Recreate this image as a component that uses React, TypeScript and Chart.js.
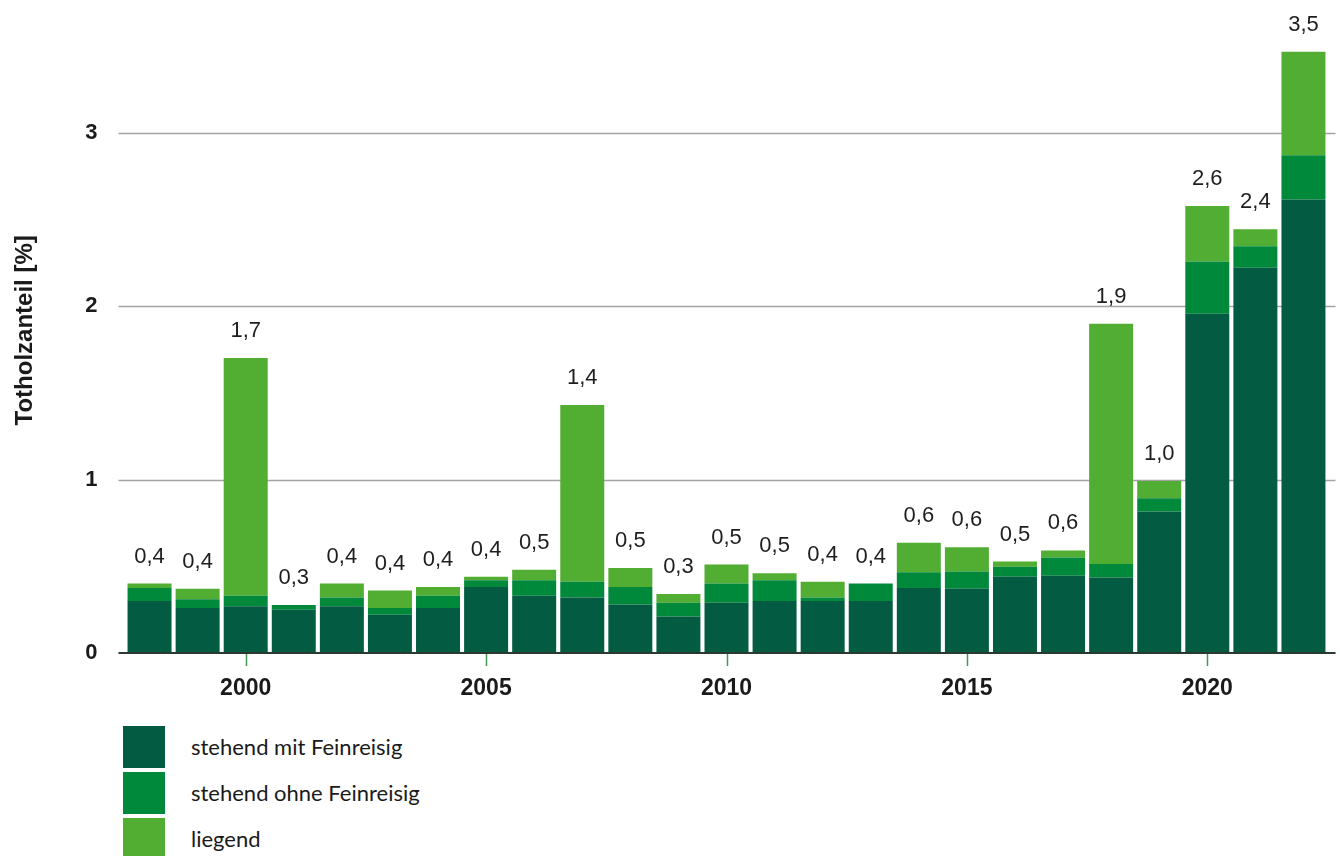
import React, { useEffect, useRef } from "react";
import { Chart, registerables } from "chart.js";

Chart.register(...registerables);

const years = [
  "1998", "1999", "2000", "2001", "2002", "2003", "2004", "2005", "2006", "2007",
  "2008", "2009", "2010", "2011", "2012", "2013", "2014", "2015", "2016", "2017",
  "2018", "2019", "2020", "2021", "2022",
];

const stehendMit = [
  0.30, 0.26, 0.27, 0.25, 0.27, 0.22, 0.26, 0.38, 0.33, 0.32,
  0.28, 0.21, 0.29, 0.30, 0.30, 0.30, 0.375, 0.37, 0.44, 0.445,
  0.435, 0.815, 1.956, 2.22, 2.614,
];

const stehendOhne = [
  0.075, 0.05, 0.06, 0.026, 0.05, 0.04, 0.07, 0.04, 0.09, 0.09,
  0.10, 0.08, 0.11, 0.12, 0.02, 0.10, 0.09, 0.10, 0.057, 0.106,
  0.078, 0.077, 0.30, 0.125, 0.255,
];

const liegend = [
  0.025, 0.06, 1.37, 0.0, 0.08, 0.10, 0.05, 0.02, 0.06, 1.02,
  0.11, 0.05, 0.11, 0.04, 0.09, 0.0, 0.17, 0.14, 0.03, 0.04,
  1.384, 0.10, 0.32, 0.097, 0.597,
];

const totalLabels = [
  0.4, 0.4, 1.7, 0.3, 0.4, 0.4, 0.4, 0.4, 0.5, 1.4,
  0.5, 0.3, 0.5, 0.5, 0.4, 0.4, 0.6, 0.6, 0.5, 0.6,
  1.9, 1.0, 2.6, 2.4, 3.5,
];

const yTicks = [0, 1, 2, 3];

const yTitle = "Totholzanteil [%]";
const seriesNames = ["stehend mit Feinreisig", "stehend ohne Feinreisig", "liegend"];
const seriesColors = ["#035c41", "#00893b", "#52ad33"];

const FONT = 'Arial, "Liberation Sans", Helvetica, sans-serif';

export default function App() {
  const canvasRef = useRef<HTMLCanvasElement | null>(null);

  useEffect(() => {
    const canvas = canvasRef.current;
    if (!canvas) return;

    const linesPlugin = {
      id: "customLines",
      beforeDatasetsDraw(chart: any) {
        const ctx = chart.ctx;
        const y = chart.scales.y;
        const x = chart.scales.x;
        const left = chart.chartArea.left - 7;
        const right = chart.chartArea.right + 8;
        ctx.save();
        yTicks.forEach((v) => {
          if (v === 0) return;
          const py = Math.round(y.getPixelForValue(v)) + 0.5;
          ctx.strokeStyle = "#a3a3a3";
          ctx.lineWidth = 1.6;
          ctx.beginPath();
          ctx.moveTo(left, py);
          ctx.lineTo(right, py);
          ctx.stroke();
        });
        ctx.strokeStyle = "#3d9b55";
        ctx.lineWidth = 1.5;
        years.forEach((yr, i) => {
          if (Number(yr) % 5 !== 0) return;
          const px = Math.round(x.getPixelForValue(i)) + 0.5;
          const py = y.getPixelForValue(0);
          ctx.beginPath();
          ctx.moveTo(px, py);
          ctx.lineTo(px, py + 13);
          ctx.stroke();
        });
        ctx.restore();
      },
      afterDatasetsDraw(chart: any) {
        const ctx = chart.ctx;
        const y = chart.scales.y;
        const x = chart.scales.x;
        const area = chart.chartArea;
        const left = area.left - 7;
        const right = area.right + 8;
        ctx.save();
        const py0 = y.getPixelForValue(0);
        ctx.strokeStyle = "#2a3a30";
        ctx.lineWidth = 2;
        ctx.beginPath();
        ctx.moveTo(left, py0);
        ctx.lineTo(right, py0);
        ctx.stroke();

        ctx.fillStyle = "#1e1e1e";
        ctx.font = `22px ${FONT}`;
        ctx.textAlign = "center";
        ctx.textBaseline = "alphabetic";
        years.forEach((_, i) => {
          const total = stehendMit[i] + stehendOhne[i] + liegend[i];
          const px = x.getPixelForValue(i);
          const py = y.getPixelForValue(total);
          ctx.fillText(totalLabels[i].toFixed(1).replace(".", ","), px, py - 21);
        });

        // y axis title
        ctx.translate(25, (area.top + area.bottom) / 2 - 19);
        ctx.rotate(-Math.PI / 2);
        ctx.font = `bold 24px ${FONT}`;
        ctx.fillStyle = "#1a1a1a";
        ctx.textAlign = "center";
        ctx.textBaseline = "middle";
        ctx.fillText(yTitle, 0, 0);
        ctx.restore();
      },
    };

    const chart = new Chart(canvas, {
      type: "bar",
      data: {
        labels: years,
        datasets: [
          { label: seriesNames[0], data: stehendMit, backgroundColor: seriesColors[0] },
          { label: seriesNames[1], data: stehendOhne, backgroundColor: seriesColors[1] },
          { label: seriesNames[2], data: liegend, backgroundColor: seriesColors[2] },
        ],
      },
      options: {
        responsive: false,
        animation: false,
        layout: { padding: { left: 0, right: 12.5, top: 45.75, bottom: 0 } },
        datasets: {
          bar: { barPercentage: 0.915, categoryPercentage: 1, borderWidth: 0 },
        },
        plugins: {
          legend: { display: false },
          tooltip: { enabled: false },
        },
        scales: {
          x: {
            stacked: true,
            grid: { display: false, drawTicks: false },
            border: { display: false },
            afterFit: (scale: any) => {
              scale.height = 62;
            },
            ticks: {
              autoSkip: false,
              maxRotation: 0,
              padding: 22,
              color: "#1a1a1a",
              font: { family: FONT, size: 23, weight: "bold" },
              callback: (_v: any, i: number) => (Number(years[i]) % 5 === 0 ? years[i] : ""),
            },
          },
          y: {
            stacked: true,
            min: 0,
            max: 3.5,
            grid: { display: false, drawTicks: false },
            border: { display: false },
            afterFit: (scale: any) => {
              scale.width = 125.5;
            },
            afterBuildTicks: (scale: any) => {
              scale.ticks = yTicks.map((v) => ({ value: v }));
            },
            ticks: {
              padding: 28,
              color: "#1a1a1a",
              font: { family: FONT, size: 22, weight: "bold" },
              callback: (v: any) => String(v),
            },
          },
        },
      },
      plugins: [linesPlugin],
    });

    return () => chart.destroy();
  }, []);

  return (
    <div style={{ position: "absolute", left: 0, top: 0, width: 1340, height: 856, background: "#fff", overflow: "hidden" }}>
      <canvas ref={canvasRef} width={1340} height={715} style={{ position: "absolute", left: 0, top: 0 }} />
      {seriesNames.map((name, i) => (
        <div key={name}>
          <div
            style={{
              position: "absolute",
              left: 123,
              top: 726 + i * 45.8,
              width: 42,
              height: 42,
              background: seriesColors[i],
            }}
          />
          <div
            style={{
              position: "absolute",
              left: 191,
              top: 726 + i * 45.8,
              height: 42,
              lineHeight: "42px",
              fontFamily: "Lato, 'Open Sans', sans-serif",
              fontSize: 22,
              color: "#1a1a1a",
              whiteSpace: "nowrap",
            }}
          >
            {name}
          </div>
        </div>
      ))}
    </div>
  );
}
